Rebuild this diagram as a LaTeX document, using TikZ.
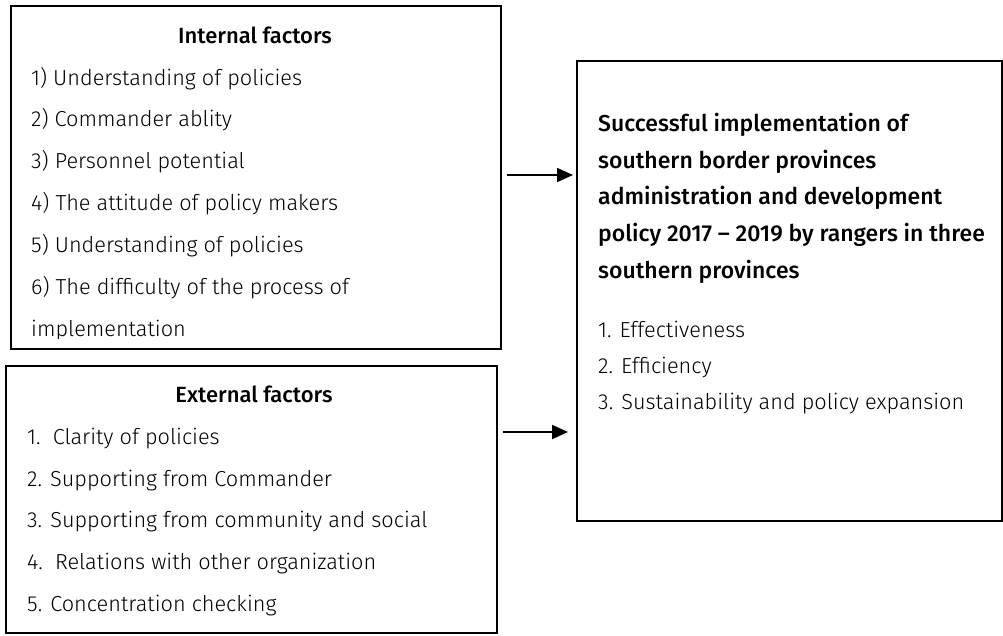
\documentclass[tikz,border=0pt]{standalone}
\usepackage{fontspec}
\setmainfont{Fira Sans Light}[BoldFont={Fira Sans Medium}]
\usetikzlibrary{arrows.meta}
\begin{document}
\begin{tikzpicture}[x=1pt,y=-1pt,
  box/.style={draw=black,line width=1.3pt},
  ln/.style={anchor=base west,inner sep=0pt,font=\fontsize{21.7}{24}\selectfont},
  hd/.style={anchor=base,inner sep=0pt,font=\fontsize{22}{24}\selectfont\bfseries},
  bl/.style={anchor=base west,inner sep=0pt,font=\fontsize{23}{24}\selectfont\bfseries},
  arr/.style={line width=1.8pt,-{Triangle[length=16pt,width=14pt]}}]
\useasboundingbox (0,0) rectangle (1003,635);
% boxes
\draw[box] (11,6) rectangle (501,349);
\draw[box] (6,366) rectangle (497,633);
\draw[box] (577,61) rectangle (1002,521);
% internal
\node[hd] (ih) at (255,43) {Internal factors};
\node[ln] (i1) at (31,85) {1) Understanding of policies};
\node[ln] (i2) at (31,126) {2) Commander ablity};
\node[ln] (i3) at (31,168) {3) Personnel potential};
\node[ln] (i4) at (31,210) {4) The attitude of policy makers};
\node[ln] (i5) at (31,252) {5) Understanding of policies};
\node[ln] (i6) at (31,294) {6) The difficulty of the process of};
\begin{scope}
\clip (11,300) rectangle (501,338);
\node[ln] (i7) at (31,336) {implementation};
\end{scope}
% external
\node[hd] (eh) at (254,402) {External factors};
\node[ln] (e1) at (27,444) {1.\ \ Clarity of policies};
\node[ln] (e2) at (27,486) {2. Supporting from Commander};
\node[ln] (e3) at (27,527) {3. Supporting from community and social};
\node[ln] (e4) at (27,569) {4.\ \ Relations with other organization};
\node[ln] (e5) at (27,611) {5. Concentration checking};
% outcome
\node[bl] (o1) at (598,131) {Successful implementation of};
\node[bl] (o2) at (598,168) {southern border provinces};
\node[bl] (o3) at (598,204) {administration and development};
\node[bl] (o4) at (598,241) {policy 2017 -- 2019 by rangers in three};
\node[bl] (o5) at (598,278) {southern provinces};
\node[ln] (r1) at (598,337) {1. Effectiveness};
\node[ln] (r2) at (598,373) {2. Efficiency};
\node[ln] (r3) at (598,409) {3. Sustainability and policy expansion};
% arrows
\coordinate (a1s) at (507,175);
\coordinate (a1e) at (573,175);
\coordinate (a2s) at (503,432);
\coordinate (a2e) at (568,432);
\draw[arr] (a1s) -- (a1e);
\draw[arr] (a2s) -- (a2e);
\end{tikzpicture}
\end{document}
